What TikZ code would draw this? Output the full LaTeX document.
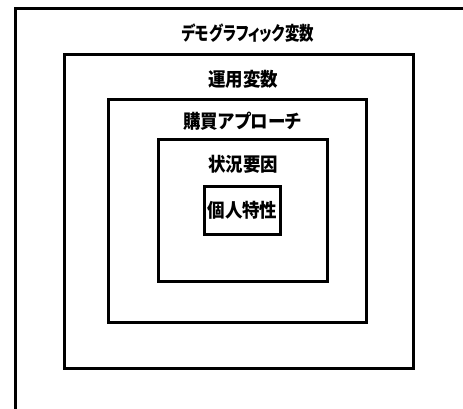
\documentclass[tikz,border=0pt]{standalone}
\usepackage{fontspec}
\newfontfamily\jp{Noto Sans CJK JP}[CharacterWidth=AlternateProportional,FakeStretch=0.92]
\newfontfamily\jpnarrow{Noto Sans CJK JP}[CharacterWidth=AlternateProportional,FakeStretch=0.76]
\begin{document}
\begin{tikzpicture}[x=1pt,y=-1pt,
  box/.style={draw, line width=3pt, inner sep=0pt, rectangle},
  lbl/.style={font=\jp\bfseries\fontsize{19}{19}\selectfont, inner sep=0pt},
  title/.style={font=\jpnarrow\bfseries\fontsize{19}{19}\selectfont, inner sep=0pt}]
\useasboundingbox (0,0) rectangle (463,409);
\clip (0,0) rectangle (463,409);
\node[box, minimum width=465pt, minimum height=421.5pt] (b1) at (247.5,219.25) {};
\node[box, minimum width=349pt, minimum height=314.3pt] (b2) at (238.8,211.2) {};
\node[box, minimum width=258.4pt, minimum height=223.4pt] (b3) at (237.5,211) {};
\node[box, minimum width=169.4pt, minimum height=142.4pt] (b4) at (243,210.5) {};
\node[box, minimum width=76pt, minimum height=48pt] (b5) at (242,210) {};
\node[title] (t1) at (248,33) {デモグラフィック変数};
\node[lbl] (t2) at (243,79) {運用変数};
\node[lbl] (t3) at (242.5,121.7) {購買アプローチ};
\node[lbl] (t4) at (243,164) {状況要因};
\node[lbl] (t5) at (242.5,210) {個人特性};
\end{tikzpicture}
\end{document}
